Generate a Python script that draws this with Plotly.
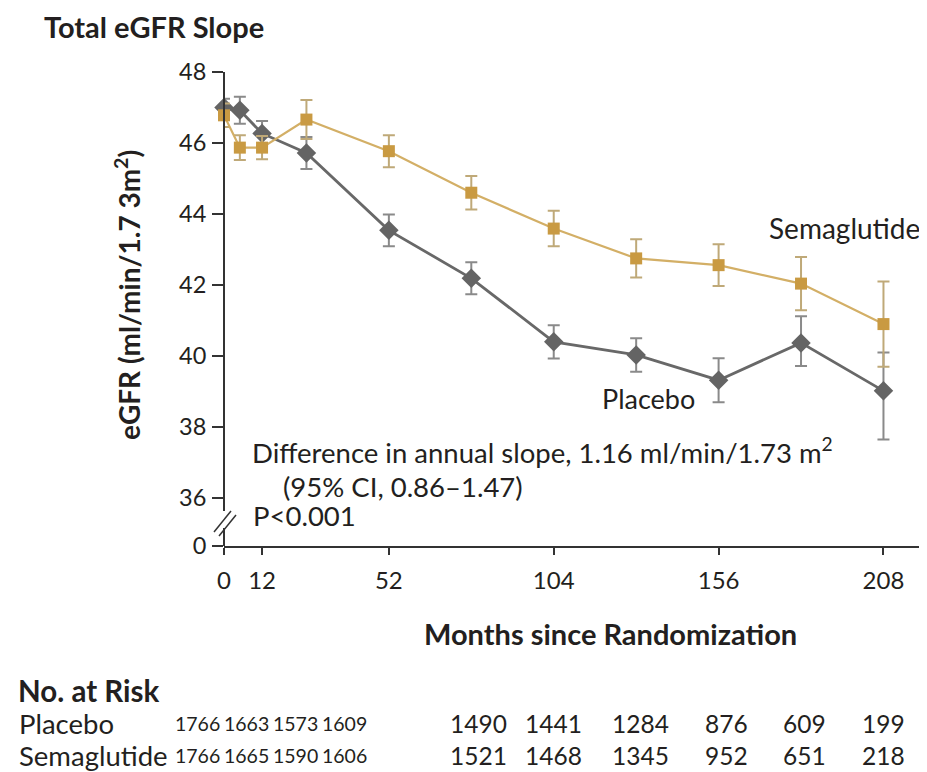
import plotly.graph_objects as go

# ---------------- data ----------------
weeks = [0, 5, 12, 26, 52, 78, 104, 130, 156, 182, 208]

placebo_egfr = [47.00, 46.92, 46.27, 45.72, 43.54, 42.19, 40.40, 40.03, 39.32, 40.37, 39.02]
placebo_err_plus = [0.25, 0.38, 0.35, 0.45, 0.45, 0.45, 0.47, 0.47, 0.62, 0.75, 1.08]
placebo_err_minus = [0.25, 0.38, 0.35, 0.45, 0.45, 0.45, 0.47, 0.47, 0.62, 0.65, 1.37]

sema_egfr = [46.78, 45.87, 45.87, 46.66, 45.77, 44.60, 43.59, 42.75, 42.56, 42.04, 40.90]
sema_err = [0.33, 0.35, 0.33, 0.55, 0.45, 0.47, 0.50, 0.54, 0.59, 0.75, 1.20]

x_tick_vals = [0, 12, 52, 104, 156, 208]
y_tick_vals = [36, 38, 40, 42, 44, 46, 48]
y_break_value = 34.65   # where the broken axis meets the x axis (labelled 0)
y_break_label = "0"

risk_rows = ["Placebo", "Semaglutide"]
risk_placebo = [1766, 1663, 1573, 1609, 1490, 1441, 1284, 876, 609, 199]
risk_sema = [1766, 1665, 1590, 1606, 1521, 1468, 1345, 952, 651, 218]

# ---------------- layout geometry (screen pixels) ----------------
OFF = 8                      # page body margin
SW, SH = 927, 772            # screen size
W, H = SW - OFF, SH - OFF    # figure size
AX_L, AX_R, AX_T, AX_B = 224, 925, 72, 546   # plot area in screen pixels
L, R, T, B = AX_L - OFF, SW - AX_R, AX_T - OFF, SH - AX_B
X_MAX = 221.1

def px(x):
    return (x - AX_L) / (AX_R - AX_L)

def py(y):
    return (AX_B - y) / (AX_B - AX_T)

FONT = "Lato, 'Open Sans', sans-serif"
TXT = "#231f20"
GOLD = "#C99A42"
GOLD_LINE = "#D3AF66"
GOLD_ERR = "#BFA978"
GRAY = "#646464"
GRAY_LINE = "#686868"
GRAY_ERR = "#8a8a8a"

fig = go.Figure()

fig.add_trace(go.Scatter(
    x=weeks, y=placebo_egfr, mode="lines+markers", name="Placebo",
    line=dict(color=GRAY_LINE, width=2.8),
    marker=dict(symbol="diamond", size=15, color=GRAY),
    error_y=dict(type="data", symmetric=False, array=placebo_err_plus,
                 arrayminus=placebo_err_minus, color=GRAY_ERR, thickness=2, width=6),
    cliponaxis=False, showlegend=False,
))
fig.add_trace(go.Scatter(
    x=weeks, y=sema_egfr, mode="lines+markers", name="Semaglutide",
    line=dict(color=GOLD_LINE, width=2.2),
    marker=dict(symbol="square", size=12, color=GOLD),
    error_y=dict(type="data", array=sema_err, color=GOLD_ERR, thickness=2, width=6),
    cliponaxis=False, showlegend=False,
))

AX = "#333333"
fig.update_xaxes(
    range=[0, X_MAX], tickvals=x_tick_vals, ticktext=[str(v) for v in x_tick_vals],
    ticks="outside", ticklen=7, tickwidth=2, tickcolor=AX,
    showline=True, linewidth=2, linecolor=AX,
    showgrid=False, zeroline=False, ticklabelstandoff=5,
    tickfont=dict(family=FONT, size=24, color=TXT),
)
fig.update_yaxes(
    range=[y_break_value, 48],
    tickvals=[y_break_value] + y_tick_vals,
    ticktext=[y_break_label] + [str(v) for v in y_tick_vals],
    ticks="outside", ticklen=11, tickwidth=2, tickcolor=AX,
    showline=False, showgrid=False, zeroline=False, ticklabelstandoff=1,
    tickfont=dict(family=FONT, size=23.5, color=TXT),
)

# broken y axis line + break marks
shapes = [
    dict(type="line", xref="paper", yref="paper", x0=0, x1=0, y0=1, y1=py(511),
         line=dict(color=AX, width=2)),
    dict(type="line", xref="paper", yref="paper", x0=0, x1=0, y0=py(528), y1=0,
         line=dict(color=AX, width=2)),
    dict(type="line", xref="paper", yref="paper", x0=px(214), x1=px(231), y0=py(532), y1=py(511),
         line=dict(color=AX, width=1.5)),
    dict(type="line", xref="paper", yref="paper", x0=px(219), x1=px(236), y0=py(536), y1=py(515),
         line=dict(color=AX, width=1.5)),
]

ann = []

def add_text(text, x, y, size, bold=False, xanchor="left", angle=0, family=FONT):
    ann.append(dict(
        text=f"<b>{text}</b>" if bold else text,
        xref="paper", yref="paper", x=px(x), y=py(y),
        xanchor=xanchor, yanchor="middle", showarrow=False, textangle=angle,
        font=dict(family=family, size=size, color=TXT),
    ))

add_text("Total eGFR Slope", 42, 26, 29, bold=True)
add_text("eGFR (ml/min/1.7 3m<sup>2</sup>)", 127, 295, 28, bold=True, xanchor="center", angle=-90)
add_text("Semaglutide", 767, 228, 28)
add_text("Placebo", 600, 398, 27)
add_text("Difference in annual slope, 1.16 ml/min/1.73 m<sup>2</sup>", 250, 450, 27.5)
add_text("(95% CI, 0.86\u20131.47)", 281, 486, 27.5)
add_text("P<0.001", 251, 515, 27.5)
add_text("Months since Randomization", 610, 633, 29, bold=True, xanchor="center")
add_text("No. at Risk", 16, 690, 29.5, bold=True)

risk_x = [197, 246, 295, 344, 478, 553, 640, 726, 804, 883]
row_y = [723, 755]
for label, vals, yy in zip(risk_rows, [risk_placebo, risk_sema], row_y):
    add_text(label, 17, yy, 27.5)
    for i, (xx, v) in enumerate(zip(risk_x, vals)):
        add_text(str(v), xx, yy, 19.5 if i < 4 else 24.5, xanchor="center")

fig.update_layout(
    width=W, height=H,
    margin=dict(l=L, r=R, t=T, b=B),
    paper_bgcolor="white", plot_bgcolor="white",
    shapes=shapes, annotations=ann,
    font=dict(family=FONT, color=TXT),
)

fig.write_html("out.html")
